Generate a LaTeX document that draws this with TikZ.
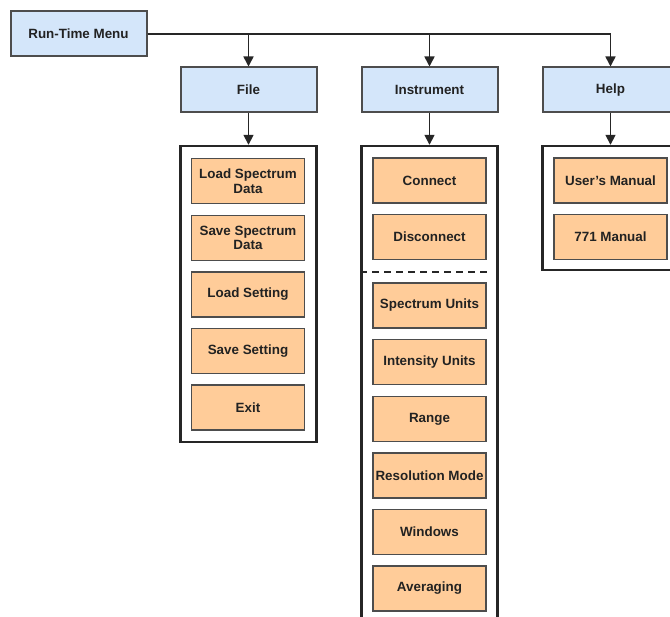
\documentclass[tikz,border=0pt]{standalone}
\usepackage{fontspec}
\setmainfont{Liberation Sans}[Ligatures=ResetAll]
\usetikzlibrary{arrows.meta}
\definecolor{bluefill}{HTML}{D4E6FA}
\definecolor{orangefill}{HTML}{FFCC99}
\definecolor{boxline}{HTML}{4D4D4D}
\definecolor{txt}{HTML}{222222}
\tikzset{
  topbox/.style={draw=boxline, line width=2pt, fill=bluefill, minimum width=136pt, minimum height=45pt, inner sep=0pt, font=\bfseries\fontsize{13.4}{15}\selectfont, text=txt, align=center},
  itembox/.style={draw=boxline, line width=1.3pt, fill=orangefill, minimum width=113pt, minimum height=45pt, inner sep=0pt, font=\bfseries\fontsize{13.4}{14.5}\selectfont, text=txt, align=center},
  container/.style={draw=black!85, line width=2.4pt, fill=white, inner sep=0pt, minimum width=136pt},
  conn/.style={draw=black!85, line width=1.6pt, -{Triangle[width=10pt,length=10pt]}}
}
\begin{document}
\begin{tikzpicture}[x=1pt,y=-1pt]
\useasboundingbox (0,0) rectangle (670,617);
\clip (0,0) rectangle (670,617);
% top-level
\node[topbox] (rtm) at (78.5,34) {Run-Time Menu};
\node[topbox] (file) at (248.5,90) {File};
\node[topbox] (instr) at (429.5,90) {Instrument};
\node[topbox] (help) at (610.5,90) {Help};
% containers
\node[container, minimum height=296pt] (fileC) at (248.5,294) {};
\node[container, minimum height=500pt] (instrC) at (429.5,396) {};
\node[container, minimum height=124pt] (helpC) at (610.5,208) {};
% connectors
\draw[conn] (rtm.east) -| (file.north);
\draw[conn] (rtm.east) -| (instr.north);
\draw[conn] (rtm.east) -| (help.north);
\draw[conn] (file.south) -- (fileC.north);
\draw[conn] (instr.south) -- (instrC.north);
\draw[conn] (help.south) -- (helpC.north);
% file items
\node[itembox] (f1) at (248,181) {Load Spectrum\\Data};
\node[itembox] (f2) at (248,238) {Save Spectrum\\Data};
\node[itembox] (f3) at (248,294.5) {Load Setting};
\node[itembox] (f4) at (248,351) {Save Setting};
\node[itembox] (f5) at (248,407.5) {Exit};
% instrument items
\node[itembox] (i1) at (429.5,180.5) {Connect};
\node[itembox] (i2) at (429.5,237) {Disconnect};
\coordinate (dL) at (instrC.west |- 0,272);
\coordinate (dR) at (492,272);
\draw[black!85, line width=2pt, dash pattern=on 7pt off 5pt] (dL) -- (dR);
\node[itembox] (i3) at (429.5,305.5) {Spectrum Units};
\node[itembox] (i4) at (429.5,362) {Intensity Units};
\node[itembox] (i5) at (429.5,419) {Range};
\node[itembox] (i6) at (429.5,475.5) {Resolution Mode};
\node[itembox] (i7) at (429.5,532) {Windows};
\node[itembox] (i8) at (429.5,588.5) {Averaging};
% help items
\node[itembox] (h1) at (610.5,180.5) {User's Manual};
\node[itembox] (h2) at (610.5,237) {771 Manual};
\end{tikzpicture}
\end{document}
